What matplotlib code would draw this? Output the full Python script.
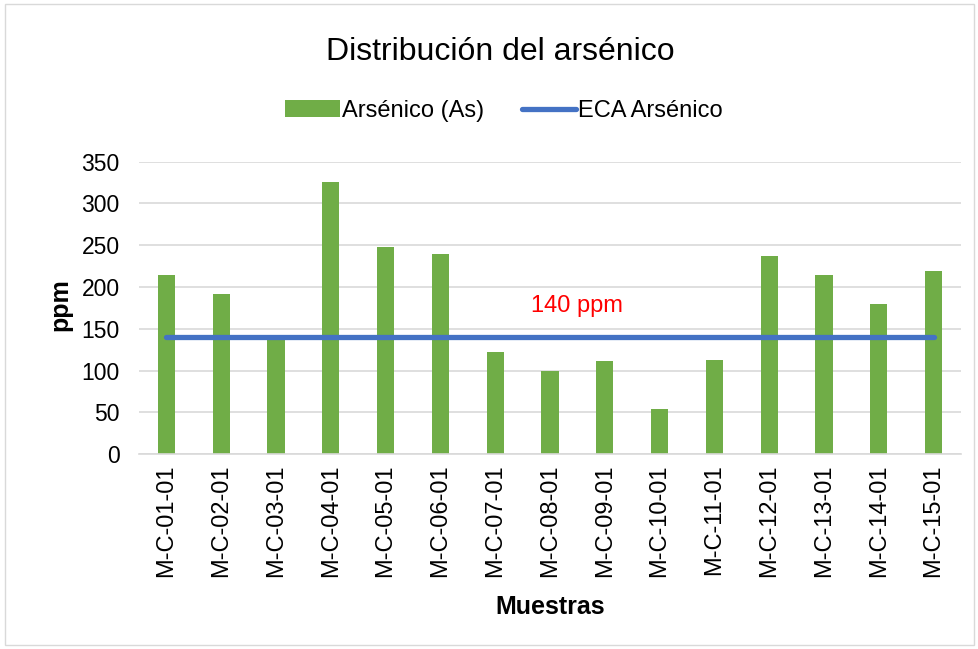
import matplotlib
matplotlib.use("Agg")
import matplotlib.pyplot as plt
from matplotlib.patches import Rectangle

plt.rcParams['font.family'] = ['Liberation Sans', 'DejaVu Sans']

# Data
muestras = ['M-C-01-01', 'M-C-02-01', 'M-C-03-01', 'M-C-04-01', 'M-C-05-01',
            'M-C-06-01', 'M-C-07-01', 'M-C-08-01', 'M-C-09-01', 'M-C-10-01',
            'M-C-11-01', 'M-C-12-01', 'M-C-13-01', 'M-C-14-01', 'M-C-15-01']
arsenico = [214, 192, 137, 326, 248, 240, 122, 100, 112, 54, 113, 237, 214, 180, 219]
eca = [140] * len(muestras)
yticks = [0, 50, 100, 150, 200, 250, 300, 350]

green = '#70AD47'
blue = '#4472C4'

fig = plt.figure(figsize=(9.79, 6.49), dpi=100)
ax = fig.add_axes([0.142, 0.300, 0.8396, 0.4509])

x = list(range(len(muestras)))
bars = ax.bar(x, arsenico, width=0.315, color=green, label='Arsénico (As)', zorder=2)
line, = ax.plot(x, eca, color=blue, lw=3.8, solid_capstyle='round', label='ECA Arsénico', zorder=3)

ax.set_xlim(-0.5, len(muestras) - 0.5)
ax.set_ylim(0, 350)
ax.set_yticks(yticks)
ax.set_xticks(x)
ax.set_xticklabels(muestras, rotation=90, fontsize=17)
ax.tick_params(axis='y', labelsize=16.5, length=0, pad=14)
ax.tick_params(axis='x', length=0, pad=7)
ax.grid(axis='y', color='#d9d9d9', lw=1.2, zorder=0)
ax.set_axisbelow(True)
for s in ['top', 'right', 'left']:
    ax.spines[s].set_visible(False)
ax.spines['bottom'].set_color('#d9d9d9')
ax.spines['bottom'].set_linewidth(1.2)

ax.text(7.5, 177, '140 ppm', color='red', fontsize=17, ha='center', va='center')

ax.set_xlabel('Muestras', fontsize=18, fontweight='bold')
ax.xaxis.set_label_coords(0.5, -0.522)
ax.xaxis.label.set_va('center')
ax.set_ylabel('ppm', fontsize=18, fontweight='bold')
ax.yaxis.set_label_coords(-0.096, 0.51)
ax.yaxis.label.set_va('center')

fig.text(0.511, 1 - 52 / 649, 'Distribución del arsénico', fontsize=23, ha='center', va='center')
fig.legend(handles=[bars, line], loc='center', bbox_to_anchor=(0.515, 1 - 111 / 649), ncol=2,
           frameon=False, fontsize=17, handlelength=2.3, handletextpad=0.1, columnspacing=1.6)

fig.patches.append(Rectangle((0.005, 0.006), 0.99, 0.988, transform=fig.transFigure,
                             fill=False, edgecolor='#d9d9d9', lw=1))

fig.savefig('out.png', dpi=100)
